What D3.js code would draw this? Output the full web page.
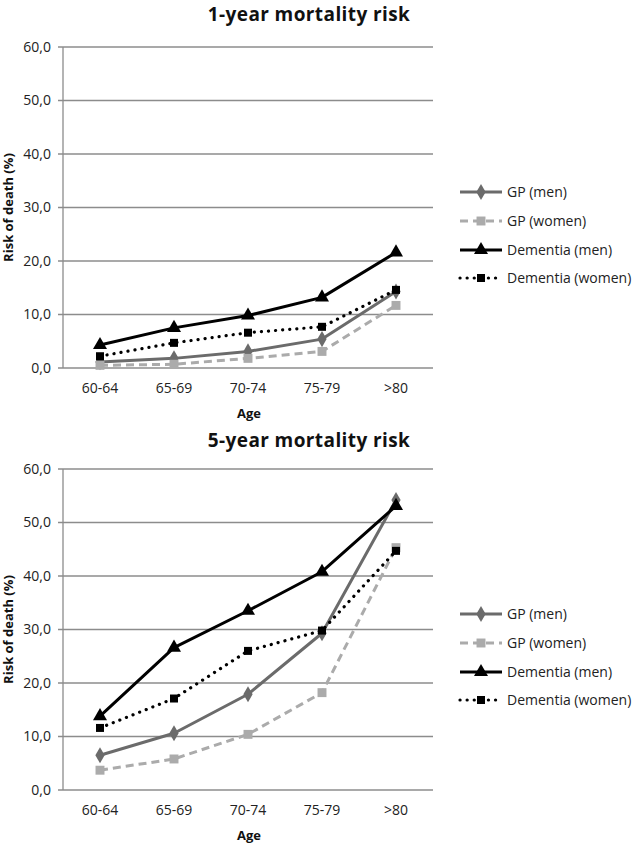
<!DOCTYPE html>
<html><head><meta charset="utf-8">
<script src="https://cdn.jsdelivr.net/npm/d3@7"></script>
<style>body{margin:0;background:#fff}svg{display:block}text{font-family:"Open Sans",sans-serif}</style>
</head><body>
<script>
const ageGroups = ["60-64","65-69","70-74","75-79",">80"];
const yTicks = [0,10,20,30,40,50,60];
const seriesNames = ["GP (men)","GP (women)","Dementia (men)","Dementia (women)"];
const oneYearGPMen = [1.1,1.8,3.1,5.4,14.3];
const oneYearGPWomen = [0.5,0.7,1.8,3.1,11.7];
const oneYearDemMen = [4.3,7.5,9.8,13.2,21.6];
const oneYearDemWomen = [2.2,4.7,6.6,7.7,14.6];
const fiveYearGPMen = [6.5,10.6,17.9,29.3,54.2];
const fiveYearGPWomen = [3.7,5.8,10.4,18.2,45.3];
const fiveYearDemMen = [13.8,26.6,33.5,40.8,53.1];
const fiveYearDemWomen = [11.6,17.1,26.0,29.8,44.7];

const styles = [
  {color:"#6b6b6b", dash:null, width:3, marker:"diamond", size:75},
  {color:"#ababab", dash:"8,5", width:3, marker:"square", size:80},
  {color:"#000000", dash:null, width:3, marker:"triangle", size:85},
  {color:"#000000", dash:"0.1,7", width:3.2, marker:"square", size:64, round:true}
];
const symMap = {diamond:d3.symbolDiamond, square:d3.symbolSquare, triangle:d3.symbolTriangle};

const svg = d3.select("body").append("svg").attr("width",636).attr("height",845);

function drawChart(top, titleY, title, data) {
  const left = 63, right = 433, y0 = top + 321, y1 = top;
  const x = d3.scaleBand().domain(ageGroups).range([left,right]);
  const y = d3.scaleLinear().domain([0,60]).range([y0,y1]);
  const g = svg.append("g");
  g.append("text").attr("x",309).attr("y",titleY).attr("text-anchor","middle")
    .attr("font-size",19).attr("letter-spacing",0.4).attr("font-weight","bold").attr("fill","#111").text(title);
  g.append("g").selectAll("line").data(yTicks).join("line")
    .attr("x1",left-5).attr("x2",right).attr("y1",d=>y(d)).attr("y2",d=>y(d))
    .attr("stroke","#8c8c8c").attr("stroke-width",1.3);
  g.append("line").attr("x1",left).attr("x2",left).attr("y1",y1).attr("y2",y0)
    .attr("stroke","#8c8c8c").attr("stroke-width",1.3);
  const ya = g.append("g").attr("transform",`translate(${left},0)`)
    .call(d3.axisLeft(y).tickValues(yTicks).tickSize(0).tickPadding(12).tickFormat(d=>d3.format(".1f")(d).replace(".",",")));
  ya.select(".domain").remove();
  ya.selectAll("text").attr("font-size",14).attr("font-family","Open Sans").attr("fill","#222");
  const xa = g.append("g").attr("transform",`translate(0,${y0})`)
    .call(d3.axisBottom(x).tickSize(0).tickPadding(15));
  xa.select(".domain").remove();
  xa.selectAll("text").attr("font-size",14).attr("font-family","Open Sans").attr("fill","#222");
  g.append("text").attr("x",(left+right)/2+1).attr("y",y0+50).attr("text-anchor","middle")
    .attr("font-size",13).attr("font-weight","bold").attr("fill","#111").text("Age");
  g.append("text").attr("transform",`translate(13,${(y0+y1)/2}) rotate(-90)`).attr("text-anchor","middle")
    .attr("font-size",13).attr("font-weight","bold").attr("fill","#111").text("Risk of death (%)");
  const line = d3.line().x((d,i)=>x(ageGroups[i])+x.bandwidth()/2).y(d=>y(d));
  data.forEach((vals,k)=>{
    const s = styles[k];
    g.append("path").datum(vals).attr("d",line).attr("fill","none").attr("stroke",s.color)
      .attr("stroke-width",s.width).attr("stroke-dasharray",s.dash)
      .attr("stroke-linecap",s.round?"round":"butt").attr("stroke-linejoin","round");
    g.append("g").selectAll("path").data(vals).join("path")
      .attr("transform",(d,i)=>`translate(${x(ageGroups[i])+x.bandwidth()/2},${y(d)})`)
      .attr("d",d3.symbol(symMap[s.marker],s.size)).attr("fill",s.color);
  });
  const ly = [top+145, top+174, top+203, top+231];
  seriesNames.forEach((name,k)=>{
    const s = styles[k];
    const lg = g.append("g").attr("transform",`translate(0,${ly[k]})`);
    lg.append("line").attr("x1",460).attr("x2",502).attr("y1",0).attr("y2",0)
      .attr("stroke",s.color).attr("stroke-width",s.width).attr("stroke-dasharray",s.dash)
      .attr("stroke-linecap",s.round?"round":"butt");
    lg.append("path").attr("transform","translate(481,0)").attr("d",d3.symbol(symMap[s.marker],s.size)).attr("fill",s.color);
    lg.append("text").attr("x",507).attr("y",0).attr("dy","0.35em").attr("font-size",14).attr("fill","#222").text(name);
  });
}

drawChart(47, 20.5, "1-year mortality risk", [oneYearGPMen, oneYearGPWomen, oneYearDemMen, oneYearDemWomen]);
drawChart(469, 447, "5-year mortality risk", [fiveYearGPMen, fiveYearGPWomen, fiveYearDemMen, fiveYearDemWomen]);
</script>
</body></html>
